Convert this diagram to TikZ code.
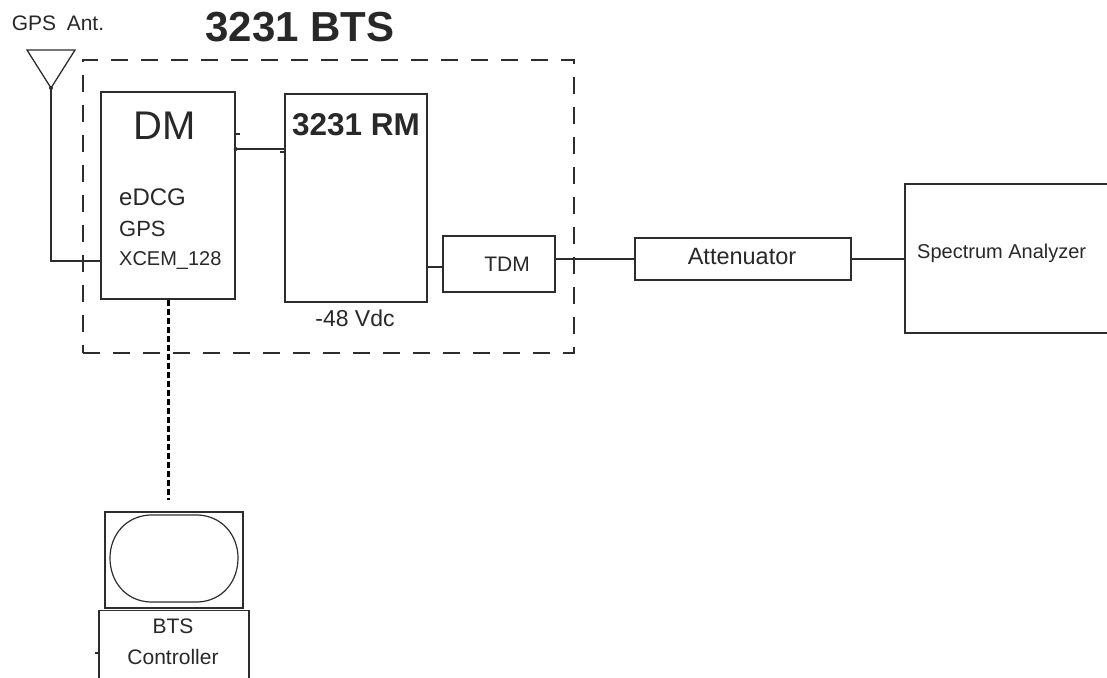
\documentclass[tikz,border=0pt]{standalone}
\usepackage{fontspec}
\setmainfont{Liberation Sans}
\usepackage{xcolor}
\definecolor{linegray}{RGB}{45, 45, 45}
\definecolor{textgray}{RGB}{40, 40, 40}
\newcommand{\fsz}[1]{\fontsize{#1}{#1}\selectfont}
\tikzset{
  block/.style={draw=linegray, line width=1.4pt, inner sep=0pt, text=textgray},
  txt/.style={text=textgray, inner sep=0pt},
  wire/.style={draw=linegray, line width=1.3pt},
  btsframe/.style={draw=linegray, line width=1.5pt, dash pattern=on 17pt off 13pt},
  datalink/.style={draw=black, line width=3pt, dash pattern=on 6pt off 3pt}
}

\begin{document}
\begin{tikzpicture}[x=1pt, y=-1pt, font=\fsz{20}]
    \useasboundingbox (0, 0) rectangle (1107, 677);
    \node[txt, font=\fsz{42}\bfseries] (title) at (300, 27) {3231 BTS};
    \node[txt, font=\fsz{21}] (gpslabel) at (58, 23) {GPS\,\,\,Ant.};
    \node[btsframe, minimum width=491pt, minimum height=293pt, inner sep=0pt] (bts) at (328.5, 206.5) {};
    \node[block, minimum width=134pt, minimum height=207pt] (dm) at (168, 195.5) {};
    \node[txt, font=\fsz{40}] (dmtitle) at (165, 126) {DM};
    \node[txt, font=\fsz{24}, anchor=west] (edcg) at (119, 197) {eDCG};
    \node[txt, font=\fsz{22}, anchor=west] (gps) at (119, 229) {GPS};
    \node[txt, anchor=west] (xcem) at (119, 261) {XCEM\_128};
    \node[block, minimum width=142pt, minimum height=208pt] (rm) at (356, 198) {};
    \node[txt, font=\fsz{31.5}\bfseries] (rmtitle) at (356, 125) {3231 RM};
    \node[txt, font=\fsz{23}] (vdc) at (355, 318) {-48 Vdc};
    \node[block, minimum width=112pt, minimum height=56pt, font=\fsz{21}] (tdm) at (499, 264) {\hspace{16pt}TDM};
    \node[block, minimum width=216pt, minimum height=42pt] (att) at (743, 259) {};
    \node[txt, font=\fsz{23.5}] (atttext) at (742, 257) {Attenuator};
    \node[block, minimum width=230pt, minimum height=149pt] (sa) at (1020, 258.5) {};
    \node[txt, anchor=west] (satext) at (917, 253) {Spectrum Analyzer};
    \node[block, minimum width=138pt, minimum height=96pt] (mon) at (174, 560) {};
    \draw[wire, line width=1.2pt] (150, 515) -- (198, 515) .. controls (222, 516) and (238, 535) .. (238, 558) .. controls (238, 582) and (222, 601) .. (198, 602) -- (150, 602) .. controls (126, 601) and (110, 582) .. (110, 558) .. controls (110, 535) and (126, 516) .. (150, 515) -- cycle;
    \node[block, minimum width=150pt, minimum height=90pt, anchor=north] (ctrl) at (174, 610) {};
    \node[txt, font=\fsz{21}] (btstext) at (173, 626) {BTS};
    \node[txt, font=\fsz{21}] (ctrltext) at (173, 657) {Controller};
    \coordinate (anttip) at (51, 88);
    \draw[wire] (27, 50) -- (75, 50) -- (anttip) -- cycle;
    \fill[linegray] (anttip) circle (2pt);
    \draw[wire] (anttip) |- (dm.west |- xcem);
    \draw[wire] (rm.west |- 0, 149) -- (dm.east |- 0, 149);
    \fill[linegray] (dm.east |- 0, 149) circle (2pt);
    \draw[wire] (dm.east |- 0, 134) -- ++(4, 0);
    \draw[wire] (rm.west |- 0, 152) -- ++(-4, 0);
    \draw[wire] ([yshift=-3pt]tdm.west -| rm.east) -- ([yshift=-3pt]tdm.west);
    \draw[wire] (att.west -| tdm.east) -- (att.west);
    \draw[wire] (att.east) -- (att.east -| sa.west);
    \coordinate (monend) at (168, 500);
    \draw[datalink] (dm.south -| monend) -- (monend);
    \draw[wire] (ctrl.west |- 0, 653) -- ++(-3, 0);
\end{tikzpicture}
\end{document}
